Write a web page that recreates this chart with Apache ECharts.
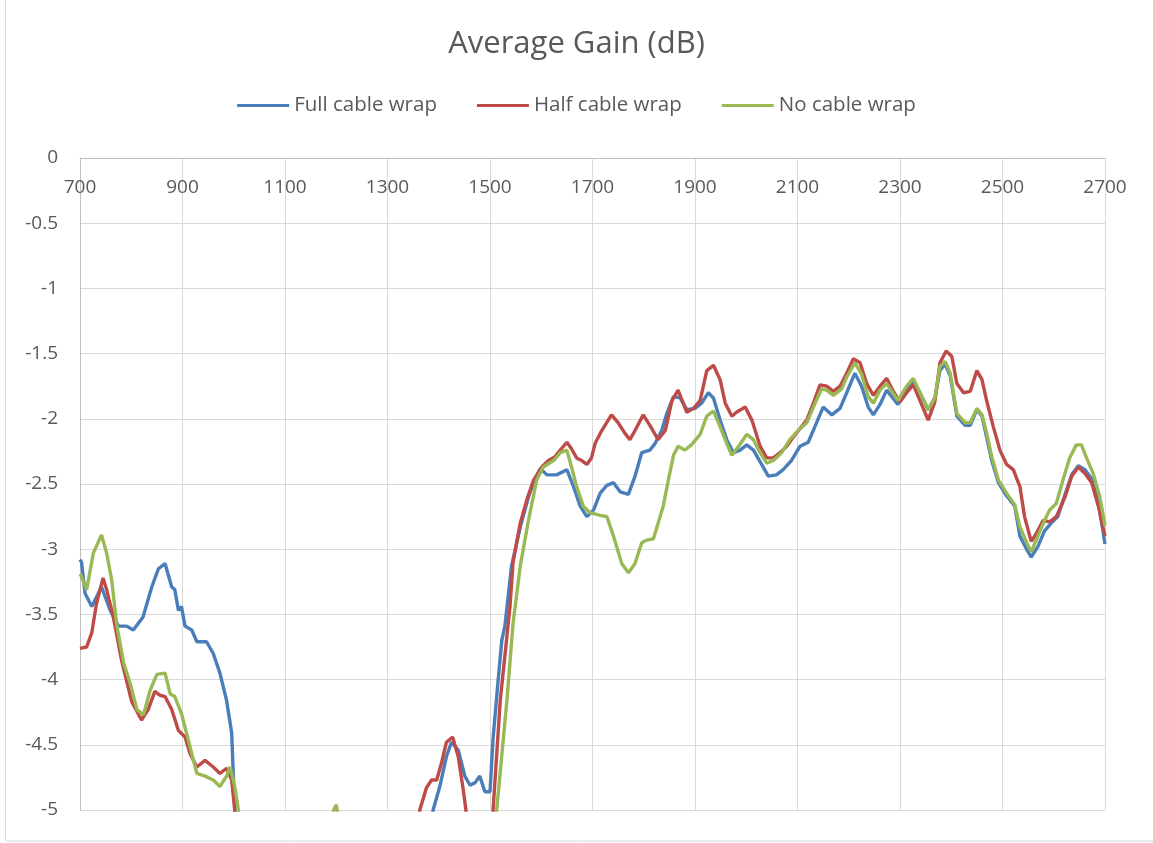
<!DOCTYPE html>
<html>
<head>
<meta charset="utf-8">
<title>Average Gain (dB)</title>
<script src="https://cdn.jsdelivr.net/npm/echarts@6/dist/echarts.min.js"></script>
<style>
  html, body { margin: 0; padding: 0; background: #fff; }
  #chart { width: 1153px; height: 843px; }
</style>
</head>
<body>
<div id="chart"></div>
<script>
// frequency (MHz) / gain (dB) pairs; values below -5 are off-chart
const fullCableWrap = [
  [700,-3.08],[703,-3.10],[710,-3.34],[723,-3.44],[742,-3.29],[759,-3.47],[775,-3.59],[791,-3.59],
  [804,-3.62],[823,-3.52],[840,-3.29],[853,-3.15],[866,-3.11],[879,-3.29],[885,-3.31],[892,-3.47],
  [898,-3.44],[905,-3.59],[918,-3.62],[928,-3.71],[947,-3.71],[960,-3.80],[973,-3.95],[986,-4.16],
  [996,-4.41],[999,-4.72],[1002,-5.0],[1010,-5.6],[1100,-6.2],[1300,-6.2],[1380,-5.4],
  [1389,-5.0],[1402,-4.82],[1415,-4.59],[1425,-4.48],[1438,-4.54],[1451,-4.74],[1461,-4.81],
  [1471,-4.79],[1480,-4.74],[1490,-4.86],[1500,-4.86],[1506,-4.45],[1516,-4.00],[1523,-3.70],
  [1529,-3.59],[1542,-3.13],[1559,-2.83],[1575,-2.60],[1585,-2.49],[1598,-2.38],[1611,-2.43],
  [1630,-2.43],[1650,-2.39],[1663,-2.52],[1676,-2.67],[1689,-2.75],[1702,-2.70],[1715,-2.57],
  [1728,-2.51],[1741,-2.49],[1754,-2.56],[1770,-2.58],[1783,-2.44],[1796,-2.26],[1812,-2.24],
  [1822,-2.19],[1835,-2.09],[1845,-1.96],[1858,-1.83],[1871,-1.84],[1884,-1.93],[1900,-1.92],
  [1913,-1.88],[1926,-1.80],[1936,-1.84],[1949,-2.01],[1962,-2.16],[1975,-2.26],[1988,-2.24],
  [2001,-2.20],[2014,-2.24],[2030,-2.35],[2043,-2.44],[2059,-2.43],[2072,-2.39],[2088,-2.32],
  [2105,-2.21],[2121,-2.18],[2134,-2.06],[2150,-1.91],[2167,-1.97],[2183,-1.92],[2196,-1.80],
  [2212,-1.65],[2225,-1.75],[2238,-1.91],[2248,-1.97],[2261,-1.89],[2274,-1.78],[2296,-1.89],
  [2313,-1.78],[2326,-1.71],[2339,-1.80],[2355,-1.93],[2368,-1.84],[2378,-1.63],[2388,-1.58],
  [2398,-1.67],[2411,-1.98],[2427,-2.05],[2437,-2.05],[2450,-1.93],[2460,-1.98],[2469,-2.14],
  [2479,-2.32],[2492,-2.49],[2508,-2.59],[2524,-2.67],[2534,-2.90],[2547,-3.00],[2556,-3.06],
  [2569,-2.98],[2582,-2.86],[2595,-2.80],[2608,-2.75],[2622,-2.58],[2635,-2.43],[2648,-2.36],
  [2661,-2.39],[2674,-2.46],[2687,-2.64],[2700,-2.96]
];

const halfCableWrap = [
  [700,-3.76],[713,-3.75],[723,-3.64],[732,-3.42],[745,-3.22],[752,-3.31],[765,-3.52],[781,-3.85],
  [801,-4.17],[820,-4.31],[833,-4.23],[846,-4.09],[856,-4.12],[866,-4.13],[879,-4.23],[892,-4.39],
  [905,-4.44],[915,-4.57],[928,-4.67],[944,-4.62],[960,-4.67],[973,-4.72],[986,-4.68],[996,-4.77],
  [1002,-5.0],[1010,-5.6],[1100,-6.2],[1300,-6.2],[1355,-5.4],[1363,-5.0],[1376,-4.83],[1386,-4.77],
  [1396,-4.77],[1406,-4.63],[1415,-4.48],[1427,-4.44],[1438,-4.59],[1448,-4.85],[1453,-5.0],
  [1460,-5.6],[1495,-5.6],[1506,-5.0],[1520,-4.16],[1529,-3.82],[1539,-3.44],[1545,-3.10],
  [1559,-2.80],[1572,-2.62],[1585,-2.47],[1601,-2.37],[1614,-2.32],[1627,-2.29],[1637,-2.24],
  [1650,-2.18],[1659,-2.23],[1669,-2.30],[1679,-2.32],[1689,-2.35],[1698,-2.30],[1705,-2.19],
  [1718,-2.09],[1737,-1.97],[1750,-2.03],[1763,-2.11],[1773,-2.16],[1783,-2.09],[1799,-1.97],
  [1812,-2.05],[1828,-2.16],[1842,-2.09],[1855,-1.86],[1867,-1.78],[1884,-1.95],[1897,-1.92],
  [1910,-1.86],[1923,-1.63],[1936,-1.59],[1949,-1.70],[1959,-1.88],[1972,-1.98],[1981,-1.95],
  [1998,-1.91],[2011,-2.01],[2027,-2.21],[2040,-2.30],[2053,-2.30],[2066,-2.26],[2079,-2.21],
  [2092,-2.14],[2108,-2.06],[2118,-2.01],[2131,-1.88],[2144,-1.74],[2157,-1.75],[2170,-1.79],
  [2183,-1.75],[2196,-1.65],[2209,-1.54],[2222,-1.57],[2235,-1.73],[2248,-1.82],[2261,-1.75],
  [2274,-1.69],[2287,-1.79],[2300,-1.87],[2313,-1.80],[2326,-1.74],[2339,-1.86],[2355,-2.01],
  [2368,-1.87],[2378,-1.57],[2390,-1.48],[2401,-1.52],[2411,-1.73],[2424,-1.80],[2437,-1.79],
  [2450,-1.63],[2460,-1.70],[2469,-1.86],[2482,-2.06],[2495,-2.24],[2508,-2.35],[2521,-2.39],
  [2534,-2.52],[2543,-2.75],[2556,-2.94],[2566,-2.88],[2579,-2.78],[2592,-2.79],[2605,-2.75],
  [2622,-2.60],[2635,-2.44],[2648,-2.37],[2661,-2.42],[2674,-2.49],[2687,-2.67],[2700,-2.90]
];

const noCableWrap = [
  [700,-3.19],[703,-3.21],[713,-3.31],[726,-3.03],[742,-2.89],[752,-3.03],[762,-3.24],[772,-3.59],
  [785,-3.87],[798,-4.03],[811,-4.23],[824,-4.27],[837,-4.08],[850,-3.96],[866,-3.95],[876,-4.11],
  [885,-4.13],[898,-4.26],[915,-4.52],[928,-4.72],[944,-4.74],[960,-4.77],[973,-4.82],[986,-4.74],
  [993,-4.67],[1002,-4.82],[1009,-5.0],[1016,-5.6],[1100,-6.2],[1185,-5.6],[1195,-5.0],[1200,-4.96],
  [1206,-5.1],[1215,-5.6],[1300,-6.2],[1480,-6.2],[1505,-5.6],[1513,-5.0],[1533,-4.16],[1545,-3.57],
  [1559,-3.13],[1575,-2.78],[1591,-2.47],[1604,-2.37],[1624,-2.32],[1637,-2.26],[1650,-2.24],
  [1659,-2.37],[1669,-2.52],[1682,-2.67],[1695,-2.72],[1715,-2.74],[1728,-2.75],[1741,-2.90],
  [1757,-3.11],[1770,-3.18],[1783,-3.11],[1796,-2.95],[1806,-2.93],[1819,-2.92],[1828,-2.80],
  [1838,-2.67],[1848,-2.47],[1858,-2.28],[1867,-2.21],[1880,-2.24],[1893,-2.20],[1910,-2.12],
  [1923,-1.98],[1936,-1.94],[1949,-2.06],[1962,-2.19],[1972,-2.28],[1985,-2.21],[2001,-2.12],
  [2014,-2.16],[2027,-2.26],[2040,-2.34],[2053,-2.32],[2069,-2.26],[2085,-2.16],[2101,-2.09],
  [2118,-2.03],[2131,-1.91],[2147,-1.77],[2157,-1.78],[2170,-1.82],[2186,-1.77],[2196,-1.68],
  [2212,-1.57],[2225,-1.66],[2238,-1.83],[2248,-1.88],[2261,-1.78],[2274,-1.73],[2296,-1.86],
  [2313,-1.75],[2326,-1.69],[2339,-1.80],[2355,-1.93],[2368,-1.84],[2378,-1.60],[2388,-1.56],
  [2398,-1.65],[2411,-1.96],[2427,-2.03],[2437,-2.03],[2450,-1.92],[2460,-1.97],[2469,-2.11],
  [2479,-2.29],[2492,-2.47],[2508,-2.57],[2524,-2.66],[2534,-2.83],[2547,-2.95],[2556,-3.02],
  [2569,-2.90],[2582,-2.78],[2592,-2.70],[2605,-2.65],[2618,-2.47],[2631,-2.30],[2644,-2.20],
  [2654,-2.20],[2664,-2.30],[2677,-2.42],[2690,-2.60],[2700,-2.82]
];

const seriesNames = ['Full cable wrap', 'Half cable wrap', 'No cable wrap'];
const seriesColors = ['#4a7ebb', '#be4b48', '#98b954'];

const font = '"Open Sans", Lato, sans-serif';
const textColor = '#595959';

const chart = echarts.init(document.getElementById('chart'));

const makeLine = (name, data, color) => ({
  name,
  type: 'line',
  data,
  symbol: 'none',
  clip: true,
  lineStyle: { color, width: 3.4 },
  itemStyle: { color },
  animation: false
});

chart.setOption({
  backgroundColor: '#fff',
  textStyle: { fontFamily: font },
  title: {
    text: 'Average Gain (dB)',
    left: 'center',
    top: 24,
    textStyle: { fontSize: 31, fontWeight: 'normal', color: textColor, fontFamily: font }
  },
  legend: {
    data: seriesNames,
    top: 90,
    left: 'center',
    icon: 'rect',
    itemWidth: 52,
    itemHeight: 3,
    itemGap: 40,
    textStyle: { fontSize: 20.5, color: textColor, fontFamily: font }
  },
  grid: {
    left: 80,
    right: 48,
    top: 158,
    bottom: 33
  },
  xAxis: {
    type: 'value',
    position: 'top',
    min: 700,
    max: 2700,
    interval: 200,
    axisLine: { show: true, lineStyle: { color: '#bfbfbf', width: 1 } },
    axisTick: { show: false },
    axisLabel: {
      inside: true,
      margin: 20,
      fontSize: 19,
      color: textColor,
      fontFamily: font,
      formatter: (value) => String(value)
    },
    splitLine: { show: true, lineStyle: { color: '#d9d9d9', width: 1 } }
  },
  yAxis: {
    type: 'value',
    min: -5,
    max: 0,
    interval: 0.5,
    axisLine: { show: true, onZero: false, lineStyle: { color: '#bfbfbf', width: 1 } },
    axisTick: { show: false },
    axisLabel: { margin: 22, fontSize: 19, color: textColor, fontFamily: font },
    splitLine: { show: true, lineStyle: { color: '#d9d9d9', width: 1 } }
  },
  graphic: [
    {
      type: 'rect',
      silent: true,
      shape: { x: 5.5, y: -10, width: 1170, height: 851 },
      style: { fill: null, stroke: '#d9d9d9', lineWidth: 1 }
    }
  ],
  series: [
    makeLine(seriesNames[0], fullCableWrap, seriesColors[0]),
    makeLine(seriesNames[1], halfCableWrap, seriesColors[1]),
    makeLine(seriesNames[2], noCableWrap, seriesColors[2])
  ]
});

window.addEventListener('resize', () => chart.resize());
</script>
</body>
</html>
